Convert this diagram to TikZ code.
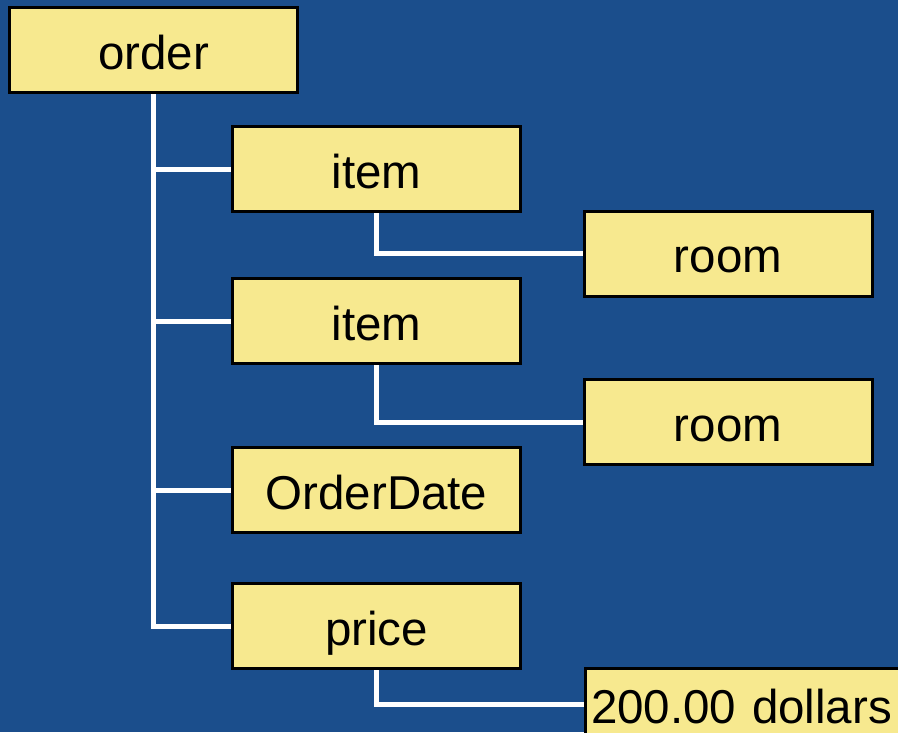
\documentclass[tikz,border=0pt]{standalone}
\usepackage{fontspec}
\setmainfont{Liberation Sans}
\definecolor{bg}{HTML}{1B4E8C}
\definecolor{boxfill}{HTML}{F7E98F}
\begin{document}
\begin{tikzpicture}[x=1pt,y=-1pt,
  box/.style={draw=black,line width=2pt,fill=boxfill,rectangle,minimum width=287pt,minimum height=84pt,inner sep=0pt,
    text height=40pt,text depth=2pt,font=\fontsize{47.5}{56}\selectfont},
  link/.style={draw=white,line width=5pt,line join=miter}]
\useasboundingbox (0,0) rectangle (898,732);
\clip (0,0) rectangle (898,732);
\fill[bg] (0,0) rectangle (898,732);
\node[box] (order) at (153.5,50) {order};
\node[box] (item1) at (376.5,169) {item};
\node[box] (room1) at (728,253.5) {room};
\node[box] (item2) at (376.5,321) {item};
\node[box] (room2) at (728,422) {room};
\node[box] (odate) at (376.5,490) {OrderDate};
\node[box] (price) at (376.5,626) {price};
\node[box,anchor=north west,minimum width=340pt,minimum height=70pt,align=left,text width=330pt] (dollars) at (585,668) {200.00 dollars};
\draw[link] (order.south) |- (price.west);
\draw[link] (order.south |- item1.west) -- (item1.west);
\draw[link] (order.south |- item2.west) -- (item2.west);
\draw[link] (order.south |- odate.west) -- (odate.west);
\draw[link] (item1.south) |- (room1.west);
\draw[link] (item2.south) |- (room2.west);
\draw[link] (price.south) |- (dollars.west);
\foreach \n in {order,item1,room1,item2,room2,odate,price,dollars}
  \draw[line width=2pt] (\n.north west) rectangle (\n.south east);
\end{tikzpicture}
\end{document}
